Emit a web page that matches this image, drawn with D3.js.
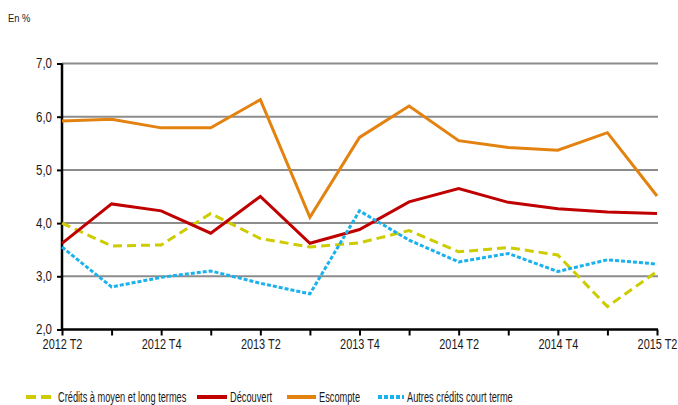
<!DOCTYPE html>
<html>
<head>
<meta charset="utf-8">
<script src="https://cdn.jsdelivr.net/npm/d3@7"></script>
<style>
  body { margin: 0; background: #fff; }
  svg text { font-family: "Liberation Sans", Arial, sans-serif; fill: #1a1a1a; }
</style>
</head>
<body>
<div id="chart"></div>
<script>
// data
const periods = ['2012 T2','2012 T3','2012 T4','2013 T1','2013 T2','2013 T3','2013 T4',
                 '2014 T1','2014 T2','2014 T3','2014 T4','2015 T1','2015 T2'];
const tickLabels = ['2012 T2','2012 T4','2013 T2','2013 T4','2014 T2','2014 T4','2015 T2'];
const yTicks = [2, 3, 4, 5, 6, 7];

const creditsMLT = [4.00, 3.57, 3.59, 4.18, 3.71, 3.55, 3.63, 3.86, 3.46, 3.54, 3.40, 2.43, 3.09];
const decouvert  = [3.62, 4.36, 4.23, 3.81, 4.50, 3.62, 3.88, 4.40, 4.65, 4.39, 4.27, 4.21, 4.18];
const escompte   = [5.92, 5.95, 5.79, 5.79, 6.32, 4.11, 5.61, 6.20, 5.55, 5.42, 5.37, 5.70, 4.51];
const autresCT   = [3.55, 2.80, 2.98, 3.10, 2.87, 2.67, 4.23, 3.68, 3.27, 3.43, 3.09, 3.31, 3.23];

const series = [
  {name: 'Crédits à moyen et long termes', values: creditsMLT, color: '#cccc00', dash: '9,5', legendDash: '10,5'},
  {name: 'Découvert', values: decouvert, color: '#c00000', dash: null, legendDash: null},
  {name: 'Escompte', values: escompte, color: '#e3820f', dash: null, legendDash: null},
  {name: 'Autres crédits court terme', values: autresCT, color: '#19b2ec', dash: '4,2', legendDash: '4,2'}
];

const width = 678, height = 405;
const margin = {t: 63.5, r: 21, b: 75.5, l: 62};
const w = width - margin.l - margin.r;
const h = height - margin.t - margin.b;

// squeeze text horizontally around its x to mimic a narrow font
function narrow(sel, k) {
    sel.each(function() {
        const x = +(this.getAttribute('x') || 0);
        d3.select(this)
            .attr('transform', `translate(${x},0) scale(${k},1) translate(${-x},0)`);
    });
}

const svg = d3.select('#chart').append('svg')
    .attr('width', width)
    .attr('height', height);

svg.append('text')
    .attr('x', 8)
    .attr('y', 22)
    .style('font-size', '11px')
    .text('En %')
    .call(narrow, 0.85);

const plot = svg.append('g')
    .attr('transform', `translate(${margin.l},${margin.t})`);

// scales
const scaleX = d3.scalePoint()
    .domain(periods)
    .range([0, w]);
const scaleY = d3.scaleLinear()
    .domain([2, 7])
    .range([h, 0]);

// gridlines
plot.selectAll('.grid')
    .data(yTicks.filter(d => d > 2))
    .enter()
    .append('line')
    .attr('class', 'grid')
    .attr('x1', 0)
    .attr('x2', w + 1)
    .attr('y1', d => scaleY(d))
    .attr('y2', d => scaleY(d))
    .style('stroke', '#8c8c8c')
    .style('stroke-width', 2);

// axes
const axisY = d3.axisLeft(scaleY)
    .tickValues(yTicks)
    .tickSize(5)
    .tickPadding(5)
    .tickFormat(d => d3.format('.1f')(d).replace('.', ','));
const axisYNode = plot.append('g').call(axisY);
axisYNode.select('.domain').remove();
axisYNode.selectAll('line').style('stroke', '#000').style('stroke-width', 2);
axisYNode.selectAll('text')
    .style('font-size', '14px')
    .attr('fill', '#1a1a1a')
    .call(narrow, 0.82);

const axisX = d3.axisBottom(scaleX)
    .tickSize(6)
    .tickPadding(4)
    .tickFormat(d => tickLabels.includes(d) ? d : '');
const axisXNode = plot.append('g')
    .attr('transform', `translate(0,${h})`)
    .call(axisX);
axisXNode.select('.domain').remove();
axisXNode.selectAll('line').style('stroke', '#000').style('stroke-width', 2);
axisXNode.selectAll('text')
    .style('font-size', '14px')
    .attr('fill', '#1a1a1a')
    .call(narrow, 0.78);

plot.append('line')
    .attr('x1', 0).attr('x2', 0)
    .attr('y1', 0).attr('y2', h + 1)
    .style('stroke', '#000').style('stroke-width', 2.5);
plot.append('line')
    .attr('x1', -1).attr('x2', w + 1)
    .attr('y1', h).attr('y2', h)
    .style('stroke', '#000').style('stroke-width', 2.5);

// lines
const line = d3.line()
    .x((d, i) => scaleX(periods[i]))
    .y(d => scaleY(d));

plot.selectAll('.series')
    .data(series)
    .enter()
    .append('path')
    .attr('class', 'series')
    .attr('d', d => line(d.values))
    .style('fill', 'none')
    .style('stroke', d => d.color)
    .style('stroke-width', 3)
    .style('stroke-linejoin', 'miter')
    .style('stroke-dasharray', d => d.dash);

// legend
const legendX = [26, 197, 287, 378];
const legendW = [29, 30, 29, 26];
const legend = svg.selectAll('.legend')
    .data(series)
    .enter()
    .append('g')
    .attr('class', 'legend')
    .attr('transform', (d, i) => `translate(${legendX[i]},397)`);
legend.append('line')
    .attr('x1', 0).attr('x2', (d, i) => legendW[i])
    .attr('y1', 0).attr('y2', 0)
    .style('stroke', d => d.color)
    .style('stroke-width', 4)
    .style('stroke-dasharray', d => d.legendDash);
legend.append('text')
    .attr('x', (d, i) => legendW[i] + 3)
    .attr('y', 5)
    .style('font-size', '14px')
    .text(d => d.name)
    .call(narrow, 0.66);
</script>
</body>
</html>
